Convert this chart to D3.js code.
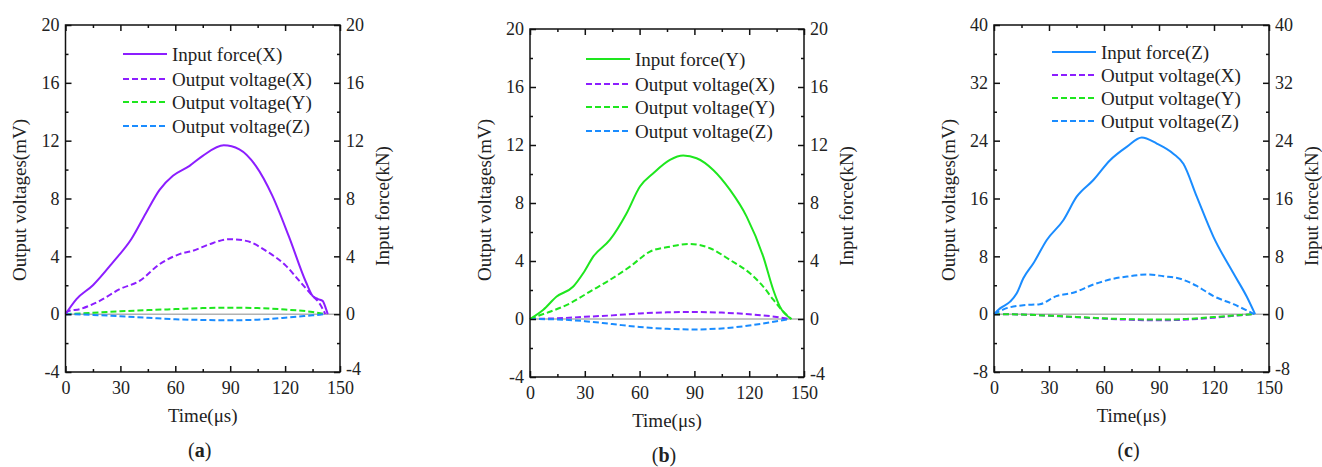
<!DOCTYPE html>
<html>
<head>
<meta charset="utf-8">
<script src="https://cdn.jsdelivr.net/npm/d3@7"></script>
<style>
  body { margin: 0; background: #fff; }
  svg text { font-family: "Liberation Serif", "Times New Roman", serif; fill: #222; }
</style>
</head>
<body>
<svg id="chart"></svg>
<script>
// ---- data (time in us, values in mV / kN) ----
var smallT = [0, 15, 30, 45, 60, 75, 90, 105, 120, 135, 142];

// (a) force along X
var aForceT = [0, 6, 15, 26, 36, 44, 51.4, 58.7, 67.8, 75, 86.5, 95, 104, 113, 122, 131.5, 135, 138, 140.5, 142.4, 143.3];
var aForceV = [0, 1.04, 2.0, 3.6, 5.2, 7.0, 8.6, 9.57, 10.26, 10.95, 11.68, 11.4, 10.26, 8.2, 5.4, 2.19, 1.27, 1.04, 0.92, 0.35, 0];
var aOutXT = [0, 1.4, 7.8, 18.7, 29.6, 40.5, 51.4, 62.3, 69.6, 78.7, 89.6, 98.7, 109.6, 120.5, 127.8, 134.2, 139, 142];
var aOutXV = [0.05, 0.2, 0.35, 0.92, 1.73, 2.3, 3.46, 4.15, 4.38, 4.84, 5.19, 5.07, 4.38, 3.34, 2.3, 1.38, 0.7, 0];
var aOutYV = [0, 0.1, 0.2, 0.28, 0.35, 0.42, 0.45, 0.42, 0.32, 0.15, 0];
var aOutZV = [0, -0.05, -0.15, -0.25, -0.35, -0.4, -0.42, -0.38, -0.25, -0.08, 0];

// (b) force along Y
var bForceT = [0, 7.3, 14.6, 23.7, 29.2, 34.7, 43.8, 52.9, 60.2, 67.5, 76.6, 83.9, 91.2, 100.3, 109.5, 118.6, 127.7, 133.2, 136.8, 143.2];
var bForceV = [0, 0.64, 1.55, 2.24, 3.17, 4.32, 5.47, 7.3, 9.14, 10.05, 10.97, 11.27, 11.09, 10.28, 8.9, 7.06, 4.3, 2.0, 0.85, 0];
var bOutYT = [0, 3.6, 10.9, 21.9, 32.8, 43.8, 54.7, 65.7, 76.6, 87.6, 98.5, 109.5, 120.4, 127.7, 133.2, 138, 143];
var bOutYV = [0, 0.18, 0.5, 1.08, 1.89, 2.7, 3.61, 4.65, 4.99, 5.18, 4.88, 4.07, 3.15, 2.23, 1.33, 0.6, 0];
var bOutXV = [0, 0.05, 0.15, 0.25, 0.38, 0.46, 0.48, 0.44, 0.33, 0.14, 0];
var bOutZV = [0, -0.03, -0.15, -0.35, -0.55, -0.68, -0.72, -0.65, -0.45, -0.15, 0];

// (c) force along Z
var cForceT = [0, 3.3, 8.8, 12.4, 16, 21.5, 28.8, 37.8, 45.1, 54.2, 63.3, 72.4, 80.6, 88.8, 97.8, 103.3, 110.6, 119.7, 130.6, 137.9, 142.4];
var cForceV = [0, 0.8, 1.73, 2.89, 4.96, 7.04, 10.26, 13.0, 16.25, 18.56, 21.3, 23.15, 24.45, 23.6, 22.2, 20.8, 16.25, 10.7, 5.65, 2.4, 0];
var cOutZT = [0, 5.5, 16, 25, 34, 43.2, 54.2, 65, 74.2, 83.3, 92.4, 101.5, 110.6, 119.7, 130.6, 142];
var cOutZV = [0, 0.7, 1.24, 1.38, 2.5, 2.96, 4.1, 4.9, 5.25, 5.5, 5.25, 4.9, 3.9, 2.5, 1.38, 0];
var cOutXV = [0, -0.05, -0.22, -0.42, -0.62, -0.78, -0.85, -0.75, -0.48, -0.14, 0];
var cOutYV = [0, -0.05, -0.2, -0.38, -0.58, -0.7, -0.75, -0.66, -0.4, -0.1, 0];

var xTicks = [0, 30, 60, 90, 120, 150];
var yTicksAB = [-4, 0, 4, 8, 12, 16, 20];
var yTicksC = [-8, 0, 8, 16, 24, 32, 40];

var purple = "#8c1eff", green = "#1ee61e", blue = "#1a8cff";

function zip(t, v) { return t.map(function(d, i) { return [d, v[i]]; }); }

var panels = [
  { left: 65.5, right: 340, top: 25, bottom: 372, yTicks: yTicksAB, yMinor: 2, tag: "a",
    forceName: "Input force(X)", forceColor: purple,
    force: zip(aForceT, aForceV),
    outs: [zip(aOutXT, aOutXV), zip(smallT, aOutYV), zip(smallT, aOutZV)],
    legX: 123, legY: [54, 79, 102, 126] },
  { left: 530, right: 804, top: 29, bottom: 377, yTicks: yTicksAB, yMinor: 2, tag: "b",
    forceName: "Input force(Y)", forceColor: green,
    force: zip(bForceT, bForceV),
    outs: [zip(smallT, bOutXV), zip(bOutYT, bOutYV), zip(smallT, bOutZV)],
    legX: 586, legY: [59, 84, 107, 131] },
  { left: 994, right: 1269, top: 25, bottom: 372, yTicks: yTicksC, yMinor: 4, tag: "c",
    forceName: "Input force(Z)", forceColor: blue,
    force: zip(cForceT, cForceV),
    outs: [zip(smallT, cOutXV), zip(smallT, cOutYV), zip(cOutZT, cOutZV)],
    legX: 1052, legY: [52, 75, 98, 121] }
];

var outNames = ["Output voltage(X)", "Output voltage(Y)", "Output voltage(Z)"];
var outColors = [purple, green, blue];

var svg = d3.select("#chart").attr("width", 1322).attr("height", 467);

panels.forEach(function(p) {
  var yMin = p.yTicks[0], yMax = p.yTicks[p.yTicks.length - 1];
  var x = d3.scaleLinear().domain([0, 150]).range([p.left, p.right]);
  var y = d3.scaleLinear().domain([yMin, yMax]).range([p.bottom, p.top]);
  var g = svg.append("g");

  var xMinor = d3.range(15, 150, 30);
  var yMinorVals = d3.range(yMin + p.yMinor, yMax, p.yMinor * 2);
  var fmt = function(d) { return String(d); };

  // zero line
  g.append("line")
    .attr("x1", x(0)).attr("x2", x(150))
    .attr("y1", y(0)).attr("y2", y(0))
    .attr("stroke", "#8a8a8a").attr("stroke-width", 1);

  // curves
  var line = d3.line()
    .x(function(d) { return x(d[0]); })
    .y(function(d) { return y(d[1]); })
    .curve(d3.curveMonotoneX);

  p.outs.forEach(function(s, i) {
    g.append("path").attr("d", line(s))
      .attr("fill", "none").attr("stroke", outColors[i])
      .attr("stroke-width", 2).attr("stroke-dasharray", "6,3");
  });
  g.append("path").attr("d", line(p.force))
    .attr("fill", "none").attr("stroke", p.forceColor).attr("stroke-width", 2);

  // axes, ticks pointing inward
  function styleAxis(sel) {
    sel.select(".domain").remove();
    sel.selectAll("line").attr("stroke", "#111").attr("stroke-width", 1.5);
    sel.selectAll("text").attr("font-size", 18).attr("fill", "#222")
      .attr("font-family", "Liberation Serif, Times New Roman, serif");
  }
  g.append("g").attr("transform", "translate(0," + p.bottom + ")")
    .call(d3.axisBottom(x).tickValues(xTicks).tickSize(-6).tickPadding(9).tickFormat(fmt))
    .call(styleAxis);
  g.append("g").attr("transform", "translate(0," + p.bottom + ")")
    .call(d3.axisBottom(x).tickValues(xMinor).tickSize(-3).tickFormat(""))
    .call(styleAxis);
  g.append("g").attr("transform", "translate(0," + p.top + ")")
    .call(d3.axisTop(x).tickValues(xTicks).tickSize(-6).tickFormat(""))
    .call(styleAxis);
  g.append("g").attr("transform", "translate(0," + p.top + ")")
    .call(d3.axisTop(x).tickValues(xMinor).tickSize(-3).tickFormat(""))
    .call(styleAxis);
  g.append("g").attr("transform", "translate(" + p.left + ",0)")
    .call(d3.axisLeft(y).tickValues(p.yTicks).tickSize(-6).tickPadding(6).tickFormat(fmt))
    .call(styleAxis);
  g.append("g").attr("transform", "translate(" + p.left + ",0)")
    .call(d3.axisLeft(y).tickValues(yMinorVals).tickSize(-3).tickFormat(""))
    .call(styleAxis);
  g.append("g").attr("transform", "translate(" + p.right + ",0)")
    .call(d3.axisRight(y).tickValues(p.yTicks).tickSize(-6).tickPadding(6).tickFormat(fmt))
    .call(styleAxis)
    .call(function(sel) {
      // lift the lowest label a little so it clears the "150" below it
      sel.selectAll(".tick text").filter(function(d) { return d === yMin; })
        .attr("dy", "0.15em");
    });
  g.append("g").attr("transform", "translate(" + p.right + ",0)")
    .call(d3.axisRight(y).tickValues(yMinorVals).tickSize(-3).tickFormat(""))
    .call(styleAxis);

  // frame
  g.append("rect")
    .attr("x", p.left).attr("y", p.top)
    .attr("width", p.right - p.left).attr("height", p.bottom - p.top)
    .attr("fill", "none").attr("stroke", "#111").attr("stroke-width", 1.5);

  // axis titles
  var midX = (p.left + p.right) / 2;
  g.append("text").attr("x", midX).attr("y", p.bottom + 50)
    .attr("text-anchor", "middle").attr("font-size", 19).text("Time(\u03bcs)");
  g.append("text")
    .attr("transform", "translate(" + (p.left - 46) + "," + 200 + ") rotate(-90)")
    .attr("text-anchor", "middle").attr("dominant-baseline", "central")
    .attr("font-size", 19).text("Output voltages(mV)");
  g.append("text")
    .attr("transform", "translate(" + (p.right + 42) + "," + 206 + ") rotate(-90)")
    .attr("text-anchor", "middle").attr("dominant-baseline", "central")
    .attr("font-size", 19).text("Input force(kN)");

  // panel tag
  var tag = g.append("text").attr("x", midX - 3).attr("y", p.bottom + 85)
    .attr("text-anchor", "middle").attr("font-size", 20);
  tag.append("tspan").text("(");
  tag.append("tspan").attr("font-weight", "bold").text(p.tag);
  tag.append("tspan").text(")");

  // legend
  var items = [{ name: p.forceName, color: p.forceColor, dash: null }]
    .concat(outNames.map(function(n, i) { return { name: n, color: outColors[i], dash: "6,3" }; }));
  items.forEach(function(it, i) {
    var ly = p.legY[i];
    g.append("line").attr("x1", p.legX).attr("x2", p.legX + 44)
      .attr("y1", ly).attr("y2", ly)
      .attr("stroke", it.color).attr("stroke-width", 2)
      .attr("stroke-dasharray", it.dash);
    g.append("text").attr("x", p.legX + 49).attr("y", ly)
      .attr("dominant-baseline", "central").attr("font-size", 19).text(it.name);
  });
});
</script>
</body>
</html>
